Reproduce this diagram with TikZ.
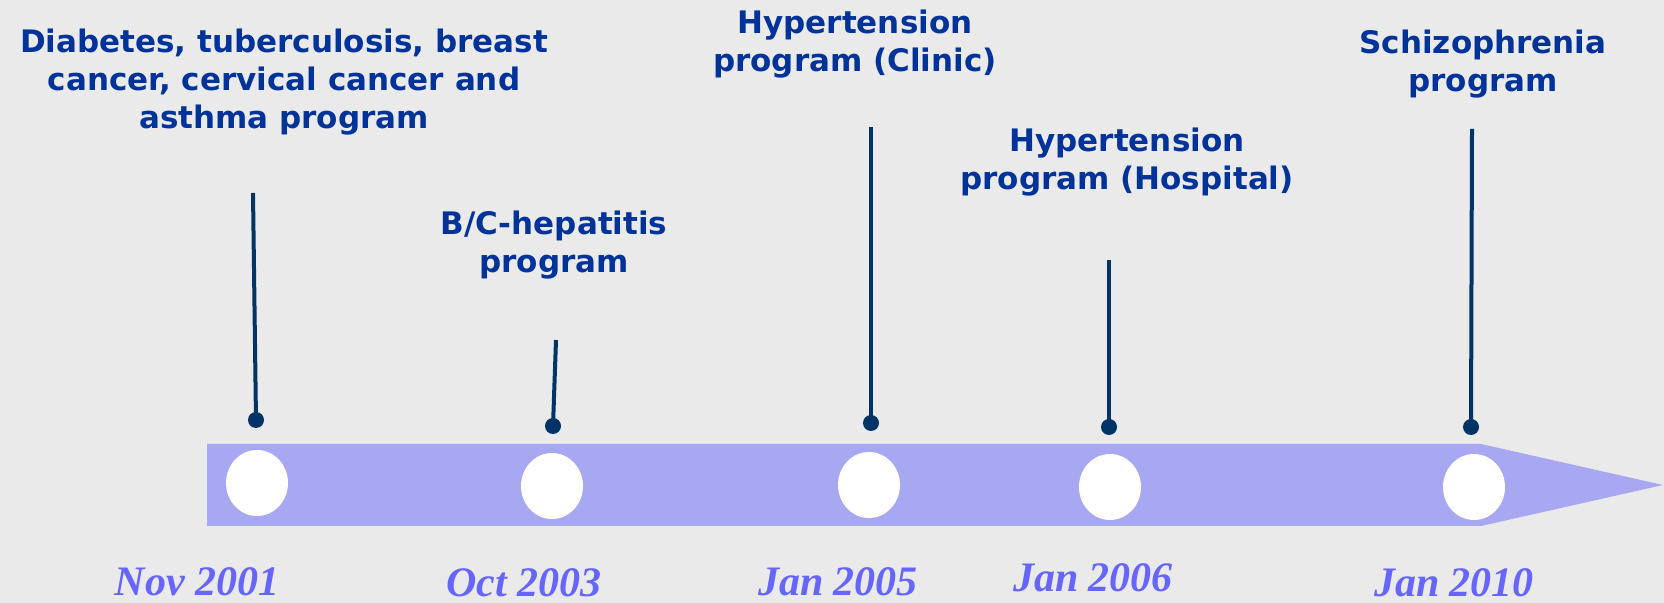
\documentclass[tikz,border=0pt]{standalone}
\usepackage{fontspec}
\setmainfont{DejaVu Sans}
\newfontfamily\datefont{Liberation Serif}
\usetikzlibrary{shapes.geometric}
\definecolor{paper}{RGB}{234, 234, 234}
\definecolor{lavender}{RGB}{168, 168, 242}
\definecolor{navy}{RGB}{0, 51, 102}
\definecolor{royal}{RGB}{0, 51, 153}
\definecolor{periwinkle}{RGB}{102, 102, 255}
\tikzset{
    program/.style={text=royal, align=center, font=\fontsize{15.5}{19}\selectfont\bfseries},
    when/.style={text=periwinkle, font=\datefont\fontsize{21}{24}\selectfont\bfseries\itshape},
    pinhead/.style={circle, fill=navy, inner sep=0pt, minimum size=8pt},
    stem/.style={navy, line width=2pt},
    hole/.style={ellipse, fill=white, inner sep=0pt, minimum width=31pt, minimum height=33pt}
}

\begin{document}
\begin{tikzpicture}[x=0.5pt, y=-0.5pt]
            \fill[paper] (0,0) rectangle (1664,603);
            \useasboundingbox (0,0) rectangle (1664,603);
            % timeline band
            \fill[lavender] (207,444) -- (1481,444) -- (1663,485) -- (1481,526) -- (207,526) -- cycle;
            \node[hole] (h1) at ( 257,483) {};
            \node[hole] (h2) at ( 552,486) {};
            \node[hole] (h3) at ( 869,485) {};
            \node[hole] (h4) at (1110,487) {};
            \node[hole] (h5) at (1474,487) {};
            % pins
            \node[pinhead] (p1) at ( 256,420) {};
            \node[pinhead] (p2) at ( 553,426) {};
            \node[pinhead] (p3) at ( 871,423) {};
            \node[pinhead] (p4) at (1109,427) {};
            \node[pinhead] (p5) at (1471,427) {};
            \coordinate (t1) at ( 253,193);
            \coordinate (t2) at ( 556,340);
            \coordinate (t3) at ( 871,127);
            \coordinate (t4) at (1109,260);
            \coordinate (t5) at (1472,129);
            \foreach \i in {1,...,5} \draw[stem] (t\i) -- (p\i.center);
            % programs
            \node[program] (l1) at ( 284, 82) {Diabetes, tuberculosis, breast\\cancer, cervical cancer and\\asthma program};
            \node[program] (l2) at ( 554,245) {B/C-hepatitis\\program};
            \node[program] (l3) at ( 855, 44) {Hypertension\\program (Clinic)};
            \node[program] (l4) at (1127,162) {Hypertension\\program (Hospital)};
            \node[program] (l5) at (1483, 64) {Schizophrenia\\program};
            % dates
            \node[when] (d1) at ( 197,582) {Nov 2001};
            \node[when] (d2) at ( 524,583) {Oct 2003};
            \node[when] (d3) at ( 838,582) {Jan 2005};
            \node[when] (d4) at (1093,578) {Jan 2006};
            \node[when] (d5) at (1454,583) {Jan 2010};
\end{tikzpicture}
\end{document}
